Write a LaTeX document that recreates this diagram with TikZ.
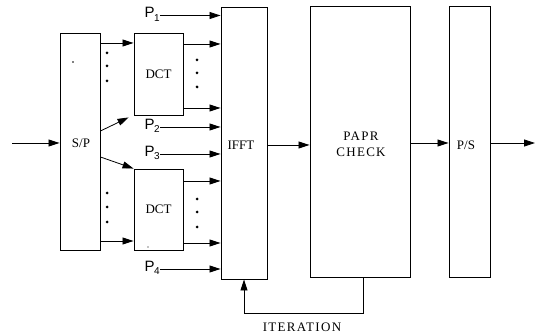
\documentclass[tikz,border=0pt]{standalone}
\usepackage{fontspec}
\setmainfont{Liberation Serif}
\setsansfont{Liberation Sans}
\usetikzlibrary{arrows.meta,calc}
\tikzset{
  blk/.style={draw, line width=0.9pt, inner sep=0pt, font=\fontsize{13}{15}\selectfont},
  arr/.style={line width=0.8pt, -{Triangle[length=11pt,width=7pt]}},
  plab/.style={inner sep=0pt, font=\sffamily\fontsize{15}{17}\selectfont},
  wide/.style={font=\fontsize{13}{16}\selectfont\addfontfeature{LetterSpace=10}},
  txt/.style={font=\fontsize{13}{15}\selectfont}
}
\newcommand{\plabel}[1]{P\kern-0.3pt\raisebox{-0.4ex}{\fontsize{10}{10}\selectfont #1}}
\begin{document}
\begin{tikzpicture}[x=1pt,y=-1pt]
\useasboundingbox (0,0) rectangle (540,336);
% blocks
\node[blk, minimum width=40pt, minimum height=217pt] (sp) at (80,141.5) {};
\node[txt] (splab) at (81,143) {S/P};
\node[blk, minimum width=49pt, minimum height=82pt] (dct1) at (158.5,74) {DCT};
\node[blk, minimum width=49pt, minimum height=81pt] (dct2) at (158.5,209.5) {DCT};
\node[blk, minimum width=46pt, minimum height=272pt] (ifft) at (244,143) {};
\node[txt] (iffttext) at (241,145) {IFFT};
\node[blk, minimum width=100pt, minimum height=271pt] (papr) at (360,141.5) {};
\node[wide, align=center] (paprtext) at (361,144) {PAPR\\CHECK};
\node[blk, minimum width=41pt, minimum height=271pt] (ps) at (469.5,141.5) {};
\node[txt] (pstext) at (466,145) {P/S};
% stray dots
\fill (73,62) circle (0.9);
\fill (148,247) circle (0.7);
% input / output
\coordinate (in) at (12,143);
\coordinate (out) at (535,143);
\draw[arr] (in) -- (in -| sp.west);
\draw[arr] (ifft.east |- 0,145) -- (papr.west |- 0,145);
\draw[arr] (papr.east |- 0,143) -- (ps.west |- 0,143);
\draw[arr] (ps.east |- 0,143) -- (out);
% S/P to DCTs
\draw[arr] (sp.east |- 0,43) -- (dct1.west |- 0,43);
\coordinate (d1end) at ($(dct1.south west)+(-5,2)$);
\draw[arr] (sp.east |- 0,131) -- (d1end);
\coordinate (d2end) at (dct2.north west);
\draw[arr] (sp.east |- 0,157) -- (d2end);
\draw[arr] (sp.east |- 0,241) -- (dct2.west |- 0,241);
\foreach \y in {53,66,81} \fill (107,\y) circle (1.5);
\foreach \y in {193,207,222} \fill (107,\y) circle (1.5);
% DCT outputs
\draw[arr] (dct1.east |- 0,44) -- (ifft.west |- 0,44);
\draw[arr] (dct1.east |- 0,108) -- (ifft.west |- 0,108);
\draw[arr] (dct2.east |- 0,181) -- (ifft.west |- 0,181);
\draw[arr] (dct2.east |- 0,243) -- (ifft.west |- 0,243);
\foreach \y in {60,73,87} \fill (197,\y) circle (1.5);
\foreach \y in {199,212,227} \fill (197,\y) circle (1.5);
% pilot inputs
\coordinate (p1s) at (160,15.5);
\coordinate (p2s) at (160,127);
\coordinate (p3s) at (160,154);
\coordinate (p4s) at (160,269);
\node[plab, anchor=base east] (p1) at ($(p1s)+(0,2.5)$) {\plabel{1}};
\node[plab, anchor=base east] (p2) at ($(p2s)+(0,2.5)$) {\plabel{2}};
\node[plab, anchor=base east] (p3) at ($(p3s)+(0,2.5)$) {\plabel{3}};
\node[plab, anchor=base east] (p4) at ($(p4s)+(0,2.5)$) {\plabel{4}};
\draw[arr] (p1s) -- (p1s -| ifft.west);
\draw[arr] (p2s) -- (p2s -| ifft.west);
\draw[arr] (p3s) -- (p3s -| ifft.west);
\draw[arr] (p4s) -- (p4s -| ifft.west);
% iteration feedback
\coordinate (fb) at (363,313);
\draw[arr] (papr.south -| fb) -- (fb) -| (ifft.south);
\node[wide] (iter) at (302,327) {ITERATION};
\end{tikzpicture}
\end{document}
